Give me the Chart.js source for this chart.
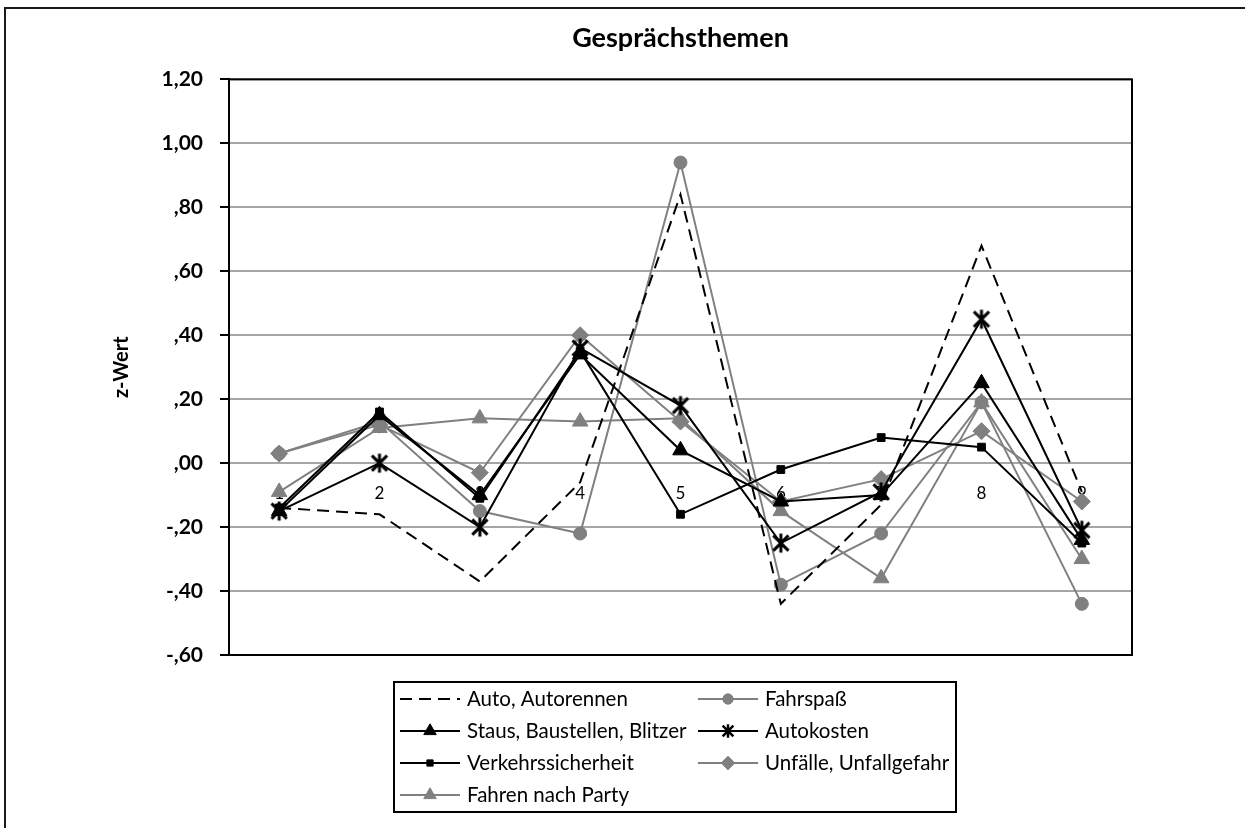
<!DOCTYPE html>
<html><head><meta charset="utf-8">
<script src="https://cdn.jsdelivr.net/npm/chart.js@4.4.1/dist/chart.umd.min.js"></script>
<style>
html,body{margin:0;padding:0;background:#fff;overflow:hidden;}
#wrap{position:relative;width:1245px;height:828px;overflow:hidden;}
#frame{position:absolute;left:4px;top:7px;width:1400px;height:1000px;border-left:2px solid #1a1a1a;border-top:2px solid #1a1a1a;}
canvas{position:absolute;left:0;top:0;}
</style></head><body>
<div id="wrap"><div id="frame"></div><canvas id="c" width="1245" height="828"></canvas></div>
<script>
const chartTitle = 'Gesprächsthemen';
const yAxisTitle = 'z-Wert';
const categories = ['1','2','3','4','5','6','7','8','9'];
const seriesNames = ['Auto, Autorennen','Fahrspaß','Staus, Baustellen, Blitzer','Autokosten','Verkehrssicherheit','Unfälle, Unfallgefahr','Fahren nach Party'];
const autoAutorennen     = [-0.14, -0.16, -0.37, -0.06, 0.84, -0.44, -0.13, 0.68, -0.09];
const fahrspass          = [ 0.03,  0.13, -0.15, -0.22, 0.94, -0.38, -0.22, 0.19, -0.44];
const staus              = [-0.15,  0.15, -0.10,  0.34, 0.04, -0.12, -0.10, 0.25, -0.24];
const autokosten         = [-0.15,  0.00, -0.20,  0.36, 0.18, -0.25, -0.09, 0.45, -0.21];
const verkehrssicherheit = [-0.14,  0.16, -0.11,  0.35, -0.16, -0.02, 0.08, 0.05, -0.25];
const unfaelle           = [ 0.03,  0.12, -0.03,  0.40, 0.13, -0.12, -0.05, 0.10, -0.12];
const fahrenNachParty    = [-0.09,  0.11,  0.14,  0.13, 0.14, -0.15, -0.36, 0.19, -0.30];
const yMin = -0.6, yMax = 1.2, yStep = 0.2;
const yTickLabels = ['-,60','-,40','-,20',',00',',20',',40',',60',',80','1,00','1,20'];

const GRAY = '#808080', BLACK = '#000000';

// asterisk marker (vertical bar + X), like the spreadsheet "*" marker
function makeAsterisk(size, lw) {
  const c = document.createElement('canvas');
  c.width = size; c.height = size;
  const g = c.getContext('2d');
  const m = size / 2, r = size / 2 - lw / 2;
  g.strokeStyle = '#000'; g.lineWidth = lw; g.lineCap = 'butt';
  g.beginPath();
  g.moveTo(m, m - r); g.lineTo(m, m + r);
  const d = r * 0.8;
  g.moveTo(m - d, m - d); g.lineTo(m + d, m + d);
  g.moveTo(m - d, m + d); g.lineTo(m + d, m - d);
  g.stroke();
  return c;
}
const asteriskBig = makeAsterisk(22, 3);
const asteriskSmall = makeAsterisk(16, 2.5);

function series(label, data, color, style, radius, order, extra) {
  return Object.assign({
    label, data, order,
    borderColor: color, backgroundColor: color,
    pointBackgroundColor: color, pointBorderColor: color,
    borderWidth: 2, pointStyle: style, pointRadius: radius, pointBorderWidth: 1,
    tension: 0, fill: false
  }, extra || {});
}
const datasets = [
  series(seriesNames[0], autoAutorennen, BLACK, 'circle', 0, 0, {borderDash: [12, 7]}),
  series(seriesNames[1], fahrspass, GRAY, 'circle', 6.5, 4),
  series(seriesNames[2], staus, BLACK, 'triangle', 9, 1),
  series(seriesNames[3], autokosten, BLACK, asteriskBig, 11, 2, {legendMarker: asteriskSmall}),
  series(seriesNames[4], verkehrssicherheit, BLACK, 'rect', 5.5, 3),
  series(seriesNames[5], unfaelle, GRAY, 'rectRot', 8.5, 5),
  series(seriesNames[6], fahrenNachParty, GRAY, 'triangle', 9, 6)
];

const plotBorder = {
  id: 'plotBorder',
  beforeDatasetsDraw(chart) {
    const {ctx, chartArea: a} = chart;
    ctx.save();
    ctx.strokeStyle = '#000'; ctx.lineWidth = 2;
    ctx.strokeRect(a.left, a.top, a.right - a.left, a.bottom - a.top);
    ctx.restore();
  }
};

const boxLegend = {
  id: 'boxLegend',
  afterDraw(chart, args, o) {
    const ctx = chart.ctx, ca = chart.chartArea;
    const left = ca.left + o.offsetX, top = ca.bottom + o.offsetY;
    ctx.save();
    ctx.lineWidth = 2; ctx.strokeStyle = '#000';
    ctx.strokeRect(left, top, o.width, o.height);
    ctx.font = o.font; ctx.textBaseline = 'middle'; ctx.textAlign = 'left'; ctx.fillStyle = '#000';
    chart.data.datasets.forEach((d, i) => {
      const col = i % 2, row = Math.floor(i / 2);
      const x0 = left + o.padX + col * o.colWidth;
      const y = top + o.padY + row * o.rowHeight;
      ctx.save();
      ctx.strokeStyle = d.borderColor; ctx.lineWidth = d.borderWidth;
      ctx.setLineDash(d.borderDash || []);
      ctx.beginPath(); ctx.moveTo(x0, y); ctx.lineTo(x0 + o.sampleWidth, y); ctx.stroke();
      ctx.setLineDash([]);
      if (d.pointRadius > 0) {
        ctx.fillStyle = d.pointBackgroundColor; ctx.strokeStyle = d.pointBorderColor;
        ctx.lineWidth = d.pointBorderWidth;
        const style = d.legendMarker || d.pointStyle;
        Chart.helpers.drawPoint(ctx, {pointStyle: style, radius: d.pointRadius * o.markerScale, borderWidth: d.pointBorderWidth, rotation: 0}, x0 + o.sampleWidth / 2, y);
      }
      ctx.restore();
      ctx.fillStyle = '#000';
      ctx.fillText(d.label, x0 + o.sampleWidth + o.textGap, y);
    });
    ctx.restore();
  }
};

new Chart(document.getElementById('c'), {
  type: 'line',
  data: {labels: categories, datasets},
  plugins: [plotBorder, boxLegend],
  options: {
    responsive: false, animation: false, devicePixelRatio: 1,
    layout: {padding: {left: 79, right: 113, top: 0, bottom: 173}},
    plugins: {
      legend: {display: false},
      tooltip: {enabled: false},
      title: {display: true, text: chartTitle, fullSize: false, color: '#000',
        font: {family: 'Lato', size: 27, weight: 'bold'}, padding: {top: 22, bottom: 25}},
      boxLegend: {offsetX: 165, offsetY: 27, width: 562, height: 130, padX: 6, padY: 17,
        colWidth: 298, rowHeight: 32, sampleWidth: 60, textGap: 7, markerScale: 0.8,
        font: '20.5px Lato'}
    },
    scales: {
      x: {
        type: 'category', offset: true, position: {y: 0},
        grid: {display: false, drawTicks: false}, border: {display: false},
        ticks: {padding: 20, color: '#000', font: {family: 'Lato', size: 17}, maxRotation: 0, autoSkip: false},
        afterFit(s) { s.height = 0; }
      },
      y: {
        min: yMin, max: yMax,
        ticks: {stepSize: yStep, padding: 17, color: '#000', font: {family: 'Lato', size: 21, weight: 'bold'},
          callback: (v) => yTickLabels[Math.round((v - yMin) / yStep)]},
        grid: {color: '#a6a6a6', lineWidth: 2, tickLength: 9, tickColor: '#000', tickWidth: 2},
        border: {display: true, color: '#000', width: 2},
        title: {display: true, text: yAxisTitle, color: '#000', font: {family: 'Lato', size: 20, weight: 'bold'}, padding: {top: 31, bottom: 0}},
        afterFit(s) { s.width = 150; }
      }
    }
  }
});
</script>
</body></html>
